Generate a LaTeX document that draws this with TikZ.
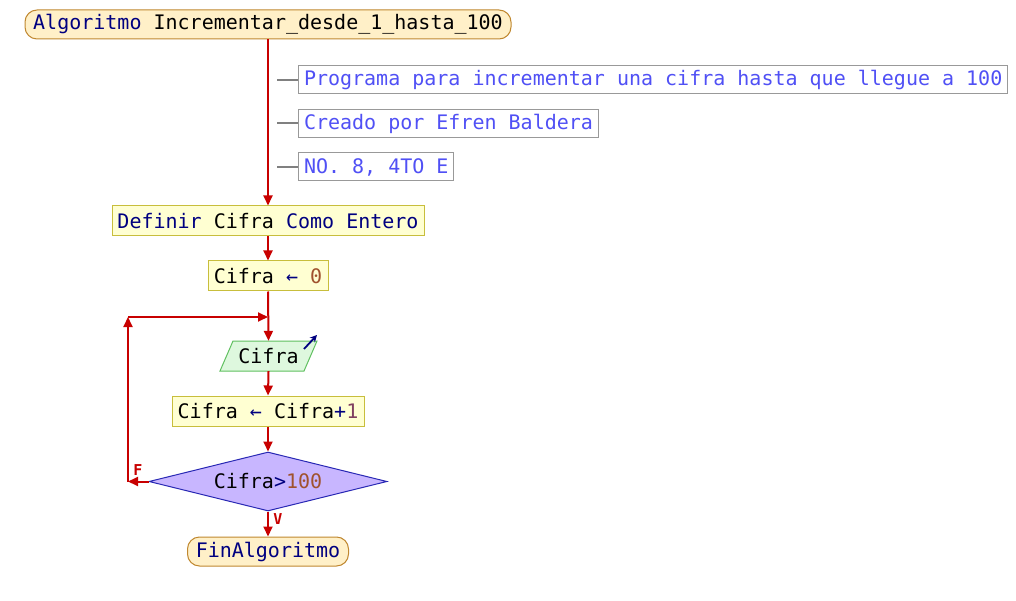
\documentclass[tikz,border=0pt]{standalone}
\usepackage{fontspec}
\setmonofont{DejaVu Sans Mono}
\usetikzlibrary{arrows.meta,shapes.geometric}
\definecolor{kw}{RGB}{0,0,128}
\definecolor{num}{RGB}{160,82,45}
\definecolor{numb}{RGB}{128,64,96}
\definecolor{cmt}{RGB}{80,80,245}
\definecolor{flow}{RGB}{200,0,0}
\definecolor{endfill}{RGB}{255,240,200}
\definecolor{enddraw}{RGB}{192,136,48}
\definecolor{procfill}{RGB}{255,255,210}
\definecolor{procdraw}{RGB}{200,190,60}
\definecolor{iofill}{RGB}{222,248,222}
\definecolor{iodraw}{RGB}{96,192,96}
\definecolor{decfill}{RGB}{200,182,255}
\definecolor{decdraw}{RGB}{40,40,180}
\begin{document}
\begin{tikzpicture}[x=1pt,y=-1pt,
  font=\ttfamily\fontsize{20}{24}\selectfont,
  every node/.style={inner sep=0pt},
  term/.style={draw=enddraw,fill=endfill,line width=1pt,rounded corners=12pt,minimum height=29pt},
  proc/.style={draw=procdraw,fill=procfill,line width=1pt,minimum height=30pt},
  cmtbox/.style={draw=gray!80,line width=1pt,fill=white,minimum height=28pt,inner xsep=5.5pt,anchor=west,text=cmt},
  cmtline/.style={draw=gray,line width=2pt},
  flowline/.style={draw=flow,line width=2pt},
  arr/.style={flowline,-{Triangle[length=10pt,width=9pt]}},
  lbl/.style={text=flow,font=\ttfamily\bfseries\fontsize{15}{17}\selectfont}
]
\useasboundingbox (0,0) rectangle (1016,601);
\fill[white] (0,0) rectangle (1016,601);

\node[term,minimum width=486pt] (start) at (268,24.5) {\textcolor{kw}{Algoritmo} Incrementar\_desde\_1\_hasta\_100};

\node[cmtbox] (c1) at (298,80) {Programa para incrementar una cifra hasta que llegue a 100};
\node[cmtbox] (c2) at (298,123.5) {Creado por Efren Baldera};
\node[cmtbox] (c3) at (298,167) {NO. 8, 4TO E};
\coordinate (k1) at (277,80);
\coordinate (k2) at (277,123.5);
\coordinate (k3) at (277,167);
\draw[cmtline] (k1) -- (c1.west);
\draw[cmtline] (k2) -- (c2.west);
\draw[cmtline] (k3) -- (c3.west);

\node[proc,minimum width=312pt] (def) at (268,221) {\textcolor{kw}{Definir} Cifra \textcolor{kw}{Como Entero}};
\node[proc,minimum width=120pt] (ini) at (268,276) {Cifra \textcolor{kw}{←} \textcolor{num}{0}};

% input parallelogram
\node[minimum width=85pt,minimum height=30pt] (inp) at (268.5,356) {};
\draw[draw=iodraw,fill=iofill,line width=1pt] (220,371) -- (233,341) -- (317,341) -- (304,371) -- cycle;
\node at (inp.center) {Cifra};
\draw[draw=kw,line width=1.8pt,-{Stealth[length=7pt,width=7pt]}] (304,349) -- (317,335);

\node[proc,minimum width=192pt] (inc) at (268,411) {Cifra \textcolor{kw}{←} Cifra\textcolor{kw}{+}\textcolor{numb}{1}};

\node[diamond,aspect=4,draw=decdraw,fill=decfill,line width=1pt,minimum width=238pt,minimum height=59pt] (dec) at (268,481.5) {Cifra\textcolor{kw}{>}\textcolor{num}{100}};

\node[term,minimum width=161pt] (fin) at (268,551.5) {\textcolor{kw}{FinAlgoritmo}};

\coordinate (lb) at (128,481.5);
\coordinate (lt) at (128,317);
\coordinate (jn) at (268,317);

\draw[arr] (start.south) -- (def.north);
\draw[arr] (def.south) -- (ini.north);
\draw[arr] (ini.south) -- (inp.north);
\draw[arr] (inp.south) -- (inc.north);
\draw[arr] (inc.south) -- (dec.north);
\draw[arr] (dec.south) -- (fin.north);
\draw[arr] (dec.west) -- (lb);
\draw[arr] (lb) -- (lt);
\draw[arr] (lt) -- (jn);

\node[lbl] (lf) at (138,470) {F};
\node[lbl] (lv) at (278,519) {V};
\end{tikzpicture}
\end{document}
